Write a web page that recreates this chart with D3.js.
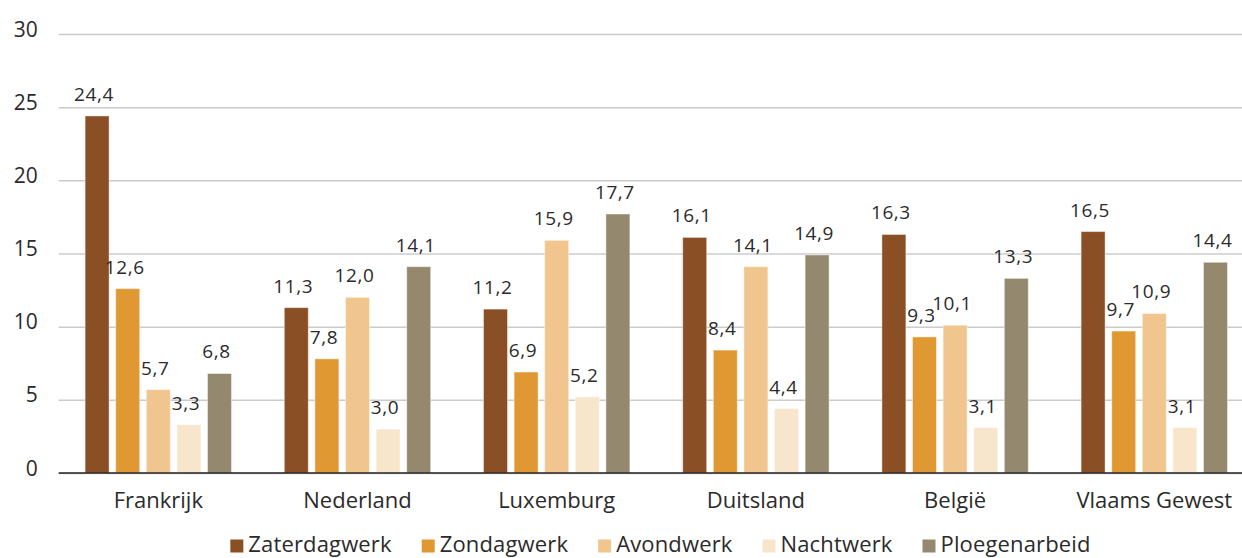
<!DOCTYPE html>
<html>
<head>
<meta charset="utf-8">
<script src="https://cdn.jsdelivr.net/npm/d3@7"></script>
<style>
  html, body { margin: 0; padding: 0; background: #fff; }
  svg { display: block; }
  text { font-family: "Open Sans", sans-serif; fill: #2b2b2b; }
</style>
</head>
<body>
<svg id="chart" width="1242" height="558"></svg>
<script>
// Categories (countries / regions)
const categories = ["Frankrijk", "Nederland", "Luxemburg", "Duitsland", "België", "Vlaams Gewest"];

// Series names
const series = ["Zaterdagwerk", "Zondagwerk", "Avondwerk", "Nachtwerk", "Ploegenarbeid"];

// Values per series (percent), in category order
const zaterdagwerk  = [24.4, 11.3, 11.2, 16.1, 16.3, 16.5];
const zondagwerk    = [12.6, 7.8, 6.9, 8.4, 9.3, 9.7];
const avondwerk     = [5.7, 12.0, 15.9, 14.1, 10.1, 10.9];
const nachtwerk     = [3.3, 3.0, 5.2, 4.4, 3.1, 3.1];
const ploegenarbeid = [6.8, 14.1, 17.7, 14.9, 13.3, 14.4];

// Y axis tick values
const yTicks = [0, 5, 10, 15, 20, 25, 30];

const seriesValues = [zaterdagwerk, zondagwerk, avondwerk, nachtwerk, ploegenarbeid];
const colors = ["#8a4f24", "#e09832", "#f0c58e", "#f8e6cc", "#94896e"];

const W = 1242, H = 558;
const left = 58.7, groupStep = 199.2;
const svg = d3.select("#chart");

const x0 = d3.scaleBand().domain(categories)
  .range([left, left + groupStep * categories.length])
  .paddingInner(0).paddingOuter(0);
const x1 = d3.scaleBand().domain(series)
  .range([26.4, 172.8]).paddingInner(0.216).paddingOuter(0);
const y = d3.scaleLinear().domain([0, 30]).range([473, 34]);
const color = d3.scaleOrdinal().domain(series).range(colors);

// Gridlines and y labels
const yAxis = svg.append("g")
  .attr("transform", `translate(${left},0)`)
  .call(d3.axisLeft(y).tickValues(yTicks).tickSize(-(W - left)).tickFormat(d3.format("d")));
yAxis.select(".domain").remove();
yAxis.selectAll(".tick line").attr("stroke", "#cccccc").attr("stroke-width", 1.5);
yAxis.selectAll(".tick text")
  .attr("x", -21).attr("dy", "0.1em")
  .attr("font-size", 21).attr("text-anchor", "end")
  .style("font-family", '"Open Sans", sans-serif').attr("fill", "#2b2b2b");

// Rows of data
const rows = categories.map((c, i) => ({
  category: c,
  values: series.map((s, k) => ({ series: s, value: seriesValues[k][i] }))
}));

const fmt = v => d3.format(".1f")(v).replace(".", ",");

const groups = svg.append("g").selectAll("g")
  .data(rows).join("g")
  .attr("transform", d => `translate(${x0(d.category)},0)`);

groups.selectAll("rect")
  .data(d => d.values).join("rect")
  .attr("x", d => x1(d.series))
  .attr("y", d => y(d.value))
  .attr("width", x1.bandwidth())
  .attr("height", d => y(0) - y(d.value))
  .attr("fill", d => color(d.series))
  .attr("stroke", "rgba(255,255,255,0.45)")
  .attr("stroke-width", 1);

groups.selectAll("text.val")
  .data(d => d.values).join("text")
  .attr("class", "val")
  .attr("x", d => x1(d.series) + x1.bandwidth() / 2 - 3)
  .attr("y", d => y(d.value) - 15)
  .attr("text-anchor", "middle")
  .attr("font-size", 19)
  .attr("letter-spacing", 0.6)
  .text(d => fmt(d.value));

// Baseline
svg.append("line")
  .attr("x1", left).attr("x2", W)
  .attr("y1", y(0)).attr("y2", y(0))
  .attr("stroke", "#222").attr("stroke-width", 1.5);

// Category labels
svg.append("g").selectAll("text")
  .data(categories).join("text")
  .attr("x", d => x0(d) + x0.bandwidth() / 2)
  .attr("y", 508)
  .attr("text-anchor", "middle")
  .attr("font-size", 22)
  .text(d => d);

// Legend
const legend = svg.append("g");
const items = legend.selectAll("g").data(series).join("g");
items.append("rect")
  .attr("width", 13).attr("height", 13)
  .attr("y", 539.5)
  .attr("fill", d => color(d));
items.append("text")
  .attr("x", 18).attr("y", 552)
  .attr("font-size", 22)
  .attr("letter-spacing", 0.15)
  .text(d => d);
let cx = 0;
const offsets = [];
items.each(function () {
  offsets.push(cx);
  const w = d3.select(this).select("text").node().getComputedTextLength();
  cx += 18 + w + 30;
});
const total = cx - 30;
const startX = 660.5 - total / 2;
items.attr("transform", (d, i) => `translate(${startX + offsets[i]},0)`);
</script>
</body>
</html>
